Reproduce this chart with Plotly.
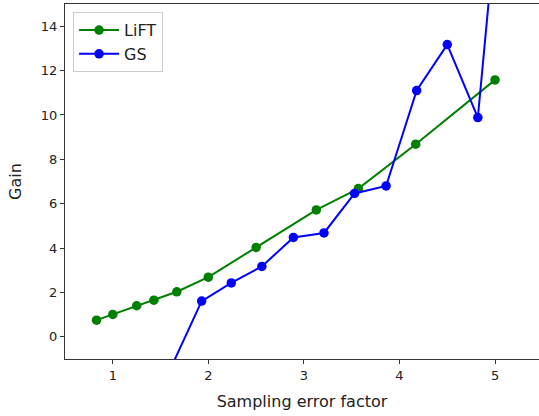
import plotly.graph_objects as go

lift_x = [0.83, 1.0, 1.25, 1.43, 1.67, 2.0, 2.5, 3.13, 3.57, 4.17, 5.0]
lift_y = [0.75, 1.01, 1.40, 1.65, 2.03, 2.69, 4.03, 5.72, 6.68, 8.68, 11.58]

gs_x = [1.61, 1.93, 2.24, 2.56, 2.89, 3.21, 3.53, 3.86, 4.18, 4.50, 4.82, 5.14]
gs_y = [-1.38, 1.61, 2.43, 3.17, 4.48, 4.68, 6.46, 6.80, 11.10, 13.17, 9.88, 24.6]

x_ticks = [1, 2, 3, 4, 5]
y_ticks = [0, 2, 4, 6, 8, 10, 12, 14]

FONT = "DejaVu Sans"
AX = "#333333"

fig = go.Figure()
fig.add_trace(go.Scatter(x=lift_x, y=lift_y, mode="lines+markers", name="LiFT",
                         line=dict(color="green", width=2),
                         marker=dict(color="green", size=9.5)))
fig.add_trace(go.Scatter(x=gs_x, y=gs_y, mode="lines+markers", name="GS",
                         line=dict(color="blue", width=2),
                         marker=dict(color="blue", size=9.5)))

fig.update_layout(
    width=539, height=416,
    margin=dict(l=65, r=0, t=4, b=57),
    paper_bgcolor="white", plot_bgcolor="white",
    font=dict(family=FONT, color="#222222", size=13),
    showlegend=True,
    legend=dict(x=0.017, y=0.977, xanchor="left", yanchor="top",
                bgcolor="rgba(255,255,255,0.8)", bordercolor="#cccccc", borderwidth=1,
                font=dict(size=16, family=FONT), itemwidth=40, tracegroupgap=0),
    xaxis=dict(range=[0.5, 5.46], tickvals=x_ticks, ticktext=[str(v) for v in x_ticks],
               showgrid=False, zeroline=False, showline=True, linecolor=AX, linewidth=1,
               mirror=True, ticks="outside", ticklen=4, tickcolor=AX,
               tickfont=dict(size=13, family=FONT),
               title=dict(text="Sampling error factor", font=dict(size=16, family=FONT), standoff=14)),
    yaxis=dict(range=[-1, 15], tickvals=y_ticks, ticktext=[str(v) for v in y_ticks],
               showgrid=False, zeroline=False, showline=True, linecolor=AX, linewidth=1,
               ticks="outside", ticklen=4, tickcolor=AX,
               tickfont=dict(size=13, family=FONT),
               title=dict(text="Gain", font=dict(size=16, family=FONT), standoff=15)),
)

fig.write_html("out.html", config={"displayModeBar": False},
               post_script="document.body.style.margin='0';document.body.style.overflow='hidden';")
